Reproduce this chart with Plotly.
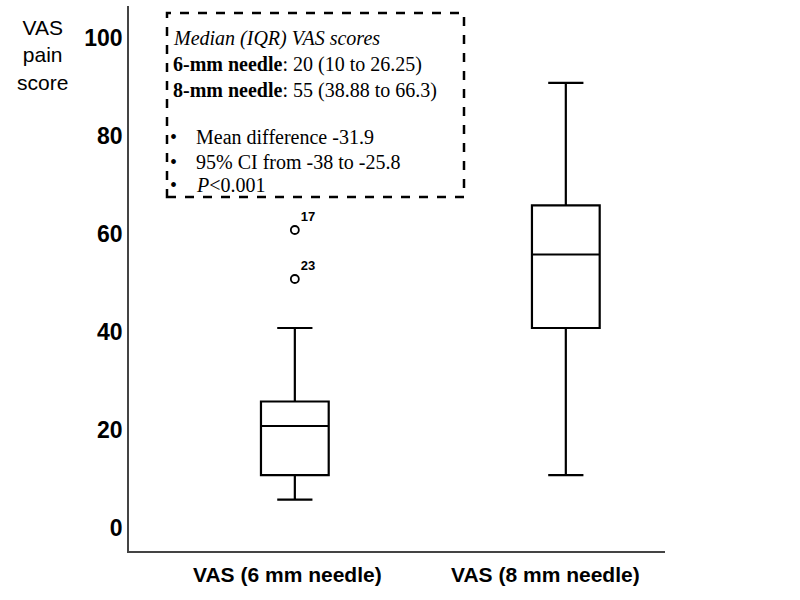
import plotly.graph_objects as go

# ---- data ----
categories = ["VAS (6 mm needle)", "VAS (8 mm needle)"]
lower_whisker = [5, 10]
q1 = [10, 40]
median = [20, 55]
q3 = [25, 65]
upper_whisker = [40, 90]

outlier_values = [60, 50]
outlier_labels = ["17", "23"]
outlier_group = [0, 0]

y_ticks = [0, 20, 40, 60, 80, 100]

stats_header = ["<i>Median (IQR) VAS scores</i>",
                "<b>6-mm needle</b>: 20 (10 to 26.25)",
                "<b>8-mm needle</b>: 55 (38.88 to 66.3)"]
stats_bullets = ["Mean difference -31.9",
                 "95% CI from -38 to -25.8",
                 "<i>P</i>&lt;0.001"]

# ---- layout geometry (pixels) ----
W, H = 800, 600
L, R, T, B = 129, 135, 6, 49
pw, ph = W - L - R, H - T - B


def px_x(p):
    return (p - L) / pw


def px_y(p):
    return (H - B - p) / ph


fig = go.Figure()

for i, name in enumerate(categories):
    fig.add_trace(go.Box(
        x=[i], q1=[q1[i]], median=[median[i]], q3=[q3[i]],
        lowerfence=[lower_whisker[i]], upperfence=[upper_whisker[i]],
        name=name, width=0.25, whiskerwidth=0.52,
        fillcolor="white", line=dict(color="black", width=2.2),
        boxpoints=False, showlegend=False, hoverinfo="skip",
    ))

fig.add_trace(go.Scatter(
    x=outlier_group, y=outlier_values, mode="markers+text",
    text=outlier_labels, textposition="top right",
    textfont=dict(family="Liberation Sans", size=13, color="black", weight="bold"),
    marker=dict(symbol="circle-open", size=8, color="black", line=dict(width=1.8)),
    showlegend=False, hoverinfo="skip", cliponaxis=False,
))

# category labels
label_px = [287, 545]
for i, name in enumerate(categories):
    fig.add_annotation(
        text=name, xref="paper", yref="paper",
        x=px_x(label_px[i]), y=px_y(574), xanchor="center", yanchor="middle",
        showarrow=False,
        font=dict(family="Liberation Sans", size=21, color="black", weight="bold"),
    )

# y axis title
fig.add_annotation(
    text="VAS<br>pain<br>score", xref="paper", yref="paper",
    x=px_x(42), y=px_y(14), xanchor="center", yanchor="top",
    showarrow=False, align="center",
    font=dict(family="Liberation Sans", size=21, color="black"),
)

# stats box
serif = dict(family="Liberation Serif", size=20, color="black")
header_y = [38, 65, 90]
for txt, yy in zip(stats_header, header_y):
    fig.add_annotation(text=txt, xref="paper", yref="paper",
                       x=px_x(171), y=px_y(yy), xanchor="left", yanchor="middle",
                       showarrow=False, font=serif)
bullet_y = [137, 162, 185]
for txt, yy in zip(stats_bullets, bullet_y):
    fig.add_annotation(text="•", xref="paper", yref="paper",
                       x=px_x(168), y=px_y(yy), xanchor="left", yanchor="middle",
                       showarrow=False, font=serif)
    fig.add_annotation(text=txt, xref="paper", yref="paper",
                       x=px_x(194), y=px_y(yy), xanchor="left", yanchor="middle",
                       showarrow=False, font=serif)
fig.add_shape(
    type="rect", xref="paper", yref="paper",
    x0=px_x(167), x1=px_x(464), y0=px_y(197), y1=px_y(13),
    line=dict(color="black", width=2.5, dash="dash"), fillcolor="rgba(0,0,0,0)",
)

fig.update_xaxes(
    range=[-0.612, 1.366], showticklabels=False, showgrid=False, zeroline=False,
    showline=True, linecolor="#444", linewidth=1.5, ticks="",
)
fig.update_yaxes(
    range=[-5.5, 105.7], tickvals=y_ticks, showgrid=False, zeroline=False,
    showline=True, linecolor="#444", linewidth=1.5, ticks="",
    ticklabelshift=4, ticklabelstandoff=0,
    tickfont=dict(family="Liberation Sans", size=23, color="black", weight="bold"),
)
fig.update_layout(
    width=W, height=H, margin=dict(l=L, r=R, t=T, b=B),
    plot_bgcolor="white", paper_bgcolor="white",
)

fig.write_html("out.html", config={"displayModeBar": False},
               post_script="document.body.style.margin='0';")
